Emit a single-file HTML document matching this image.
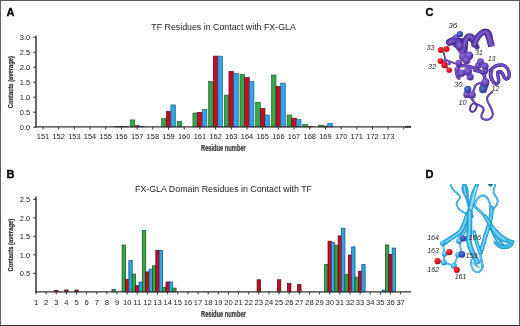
<!DOCTYPE html>
<html><head><meta charset="utf-8"><title>Figure</title>
<style>
html,body{margin:0;padding:0;background:#fff;}
body{width:520px;height:326px;overflow:hidden;position:relative;}
svg{display:block;position:absolute;left:0;top:0;}
</style></head><body>
<svg width="520" height="326" viewBox="0 0 520 326">
<rect x="0" y="0" width="520" height="326" fill="#fff"/>
<g id="chartA">
<rect x="114.46" y="126.30" width="4.66" height="0.60" fill="#33a846" stroke="#1c5a25" stroke-width="0.6"/>
<rect x="119.12" y="126.30" width="4.66" height="0.60" fill="#c70a28" stroke="#5a0a1a" stroke-width="0.6"/>
<rect x="123.78" y="126.40" width="4.66" height="0.50" fill="#2fa5e4" stroke="#1a5a82" stroke-width="0.6"/>
<rect x="130.15" y="119.90" width="4.66" height="7.00" fill="#33a846" stroke="#1c5a25" stroke-width="0.6"/>
<rect x="134.81" y="125.70" width="4.66" height="1.20" fill="#c70a28" stroke="#5a0a1a" stroke-width="0.6"/>
<rect x="139.47" y="126.20" width="4.66" height="0.70" fill="#2fa5e4" stroke="#1a5a82" stroke-width="0.6"/>
<rect x="161.53" y="118.60" width="4.66" height="8.30" fill="#33a846" stroke="#1c5a25" stroke-width="0.6"/>
<rect x="166.19" y="111.30" width="4.66" height="15.60" fill="#c70a28" stroke="#5a0a1a" stroke-width="0.6"/>
<rect x="170.85" y="104.90" width="4.66" height="22.00" fill="#2fa5e4" stroke="#1a5a82" stroke-width="0.6"/>
<rect x="177.22" y="121.30" width="4.66" height="5.60" fill="#33a846" stroke="#1c5a25" stroke-width="0.6"/>
<rect x="192.91" y="113.00" width="4.66" height="13.90" fill="#33a846" stroke="#1c5a25" stroke-width="0.6"/>
<rect x="197.57" y="112.30" width="4.66" height="14.60" fill="#c70a28" stroke="#5a0a1a" stroke-width="0.6"/>
<rect x="202.23" y="109.30" width="4.66" height="17.60" fill="#2fa5e4" stroke="#1a5a82" stroke-width="0.6"/>
<rect x="208.60" y="81.40" width="4.66" height="45.50" fill="#33a846" stroke="#1c5a25" stroke-width="0.6"/>
<rect x="213.26" y="56.10" width="4.66" height="70.80" fill="#c70a28" stroke="#5a0a1a" stroke-width="0.6"/>
<rect x="217.92" y="56.10" width="4.66" height="70.80" fill="#2fa5e4" stroke="#1a5a82" stroke-width="0.6"/>
<rect x="224.29" y="95.10" width="4.66" height="31.80" fill="#33a846" stroke="#1c5a25" stroke-width="0.6"/>
<rect x="228.95" y="71.30" width="4.66" height="55.60" fill="#c70a28" stroke="#5a0a1a" stroke-width="0.6"/>
<rect x="233.61" y="73.30" width="4.66" height="53.60" fill="#2fa5e4" stroke="#1a5a82" stroke-width="0.6"/>
<rect x="239.98" y="74.30" width="4.66" height="52.60" fill="#33a846" stroke="#1c5a25" stroke-width="0.6"/>
<rect x="244.64" y="77.50" width="4.66" height="49.40" fill="#c70a28" stroke="#5a0a1a" stroke-width="0.6"/>
<rect x="249.30" y="81.40" width="4.66" height="45.50" fill="#2fa5e4" stroke="#1a5a82" stroke-width="0.6"/>
<rect x="255.67" y="102.20" width="4.66" height="24.70" fill="#33a846" stroke="#1c5a25" stroke-width="0.6"/>
<rect x="260.33" y="108.30" width="4.66" height="18.60" fill="#c70a28" stroke="#5a0a1a" stroke-width="0.6"/>
<rect x="264.99" y="115.00" width="4.66" height="11.90" fill="#2fa5e4" stroke="#1a5a82" stroke-width="0.6"/>
<rect x="271.36" y="75.00" width="4.66" height="51.90" fill="#33a846" stroke="#1c5a25" stroke-width="0.6"/>
<rect x="276.02" y="86.30" width="4.66" height="40.60" fill="#c70a28" stroke="#5a0a1a" stroke-width="0.6"/>
<rect x="280.68" y="83.10" width="4.66" height="43.80" fill="#2fa5e4" stroke="#1a5a82" stroke-width="0.6"/>
<rect x="287.05" y="115.00" width="4.66" height="11.90" fill="#33a846" stroke="#1c5a25" stroke-width="0.6"/>
<rect x="291.71" y="118.10" width="4.66" height="8.80" fill="#c70a28" stroke="#5a0a1a" stroke-width="0.6"/>
<rect x="296.37" y="119.40" width="4.66" height="7.50" fill="#2fa5e4" stroke="#1a5a82" stroke-width="0.6"/>
<rect x="302.74" y="124.30" width="4.66" height="2.60" fill="#33a846" stroke="#1c5a25" stroke-width="0.6"/>
<rect x="307.40" y="126.20" width="4.66" height="0.70" fill="#c70a28" stroke="#5a0a1a" stroke-width="0.6"/>
<rect x="318.43" y="125.20" width="4.66" height="1.70" fill="#33a846" stroke="#1c5a25" stroke-width="0.6"/>
<rect x="323.09" y="126.00" width="4.66" height="0.90" fill="#c70a28" stroke="#5a0a1a" stroke-width="0.6"/>
<rect x="327.75" y="123.30" width="4.66" height="3.60" fill="#2fa5e4" stroke="#1a5a82" stroke-width="0.6"/>
<path d="M36 35.6V127.6" stroke="#333" stroke-width="1.5" fill="none"/>
<path d="M35.3 126.9H406" stroke="#333" stroke-width="1.15" fill="none"/>
<path d="M405 126.9H411" stroke="#333" stroke-width="2" fill="none"/>
<path d="M33.2 127.2H36" stroke="#333" stroke-width="1"/>
<text x="30.2" y="129.9" text-anchor="end" font-size="7.5" font-family="Liberation Sans, Arial, sans-serif" fill="#1a1a1a">0.0</text>
<path d="M33.2 112.2H36" stroke="#333" stroke-width="1"/>
<text x="30.2" y="114.9" text-anchor="end" font-size="7.5" font-family="Liberation Sans, Arial, sans-serif" fill="#1a1a1a">0.5</text>
<path d="M33.2 97.2H36" stroke="#333" stroke-width="1"/>
<text x="30.2" y="99.9" text-anchor="end" font-size="7.5" font-family="Liberation Sans, Arial, sans-serif" fill="#1a1a1a">1.0</text>
<path d="M33.2 82.2H36" stroke="#333" stroke-width="1"/>
<text x="30.2" y="84.9" text-anchor="end" font-size="7.5" font-family="Liberation Sans, Arial, sans-serif" fill="#1a1a1a">1.5</text>
<path d="M33.2 67.2H36" stroke="#333" stroke-width="1"/>
<text x="30.2" y="69.9" text-anchor="end" font-size="7.5" font-family="Liberation Sans, Arial, sans-serif" fill="#1a1a1a">2.0</text>
<path d="M33.2 52.2H36" stroke="#333" stroke-width="1"/>
<text x="30.2" y="54.9" text-anchor="end" font-size="7.5" font-family="Liberation Sans, Arial, sans-serif" fill="#1a1a1a">2.5</text>
<path d="M33.2 37.2H36" stroke="#333" stroke-width="1"/>
<text x="30.2" y="39.9" text-anchor="end" font-size="7.5" font-family="Liberation Sans, Arial, sans-serif" fill="#1a1a1a">3.0</text>
<path d="M43.00 127V129.6" stroke="#333" stroke-width="1"/>
<text x="43.00" y="139.3" text-anchor="middle" font-size="7.45" font-family="Liberation Sans, Arial, sans-serif" fill="#1a1a1a">151</text>
<path d="M58.69 127V129.6" stroke="#333" stroke-width="1"/>
<text x="58.69" y="139.3" text-anchor="middle" font-size="7.45" font-family="Liberation Sans, Arial, sans-serif" fill="#1a1a1a">152</text>
<path d="M74.38 127V129.6" stroke="#333" stroke-width="1"/>
<text x="74.38" y="139.3" text-anchor="middle" font-size="7.45" font-family="Liberation Sans, Arial, sans-serif" fill="#1a1a1a">153</text>
<path d="M90.07 127V129.6" stroke="#333" stroke-width="1"/>
<text x="90.07" y="139.3" text-anchor="middle" font-size="7.45" font-family="Liberation Sans, Arial, sans-serif" fill="#1a1a1a">154</text>
<path d="M105.76 127V129.6" stroke="#333" stroke-width="1"/>
<text x="105.76" y="139.3" text-anchor="middle" font-size="7.45" font-family="Liberation Sans, Arial, sans-serif" fill="#1a1a1a">155</text>
<path d="M121.45 127V129.6" stroke="#333" stroke-width="1"/>
<text x="121.45" y="139.3" text-anchor="middle" font-size="7.45" font-family="Liberation Sans, Arial, sans-serif" fill="#1a1a1a">156</text>
<path d="M137.14 127V129.6" stroke="#333" stroke-width="1"/>
<text x="137.14" y="139.3" text-anchor="middle" font-size="7.45" font-family="Liberation Sans, Arial, sans-serif" fill="#1a1a1a">157</text>
<path d="M152.83 127V129.6" stroke="#333" stroke-width="1"/>
<text x="152.83" y="139.3" text-anchor="middle" font-size="7.45" font-family="Liberation Sans, Arial, sans-serif" fill="#1a1a1a">158</text>
<path d="M168.52 127V129.6" stroke="#333" stroke-width="1"/>
<text x="168.52" y="139.3" text-anchor="middle" font-size="7.45" font-family="Liberation Sans, Arial, sans-serif" fill="#1a1a1a">159</text>
<path d="M184.21 127V129.6" stroke="#333" stroke-width="1"/>
<text x="184.21" y="139.3" text-anchor="middle" font-size="7.45" font-family="Liberation Sans, Arial, sans-serif" fill="#1a1a1a">160</text>
<path d="M199.90 127V129.6" stroke="#333" stroke-width="1"/>
<text x="199.90" y="139.3" text-anchor="middle" font-size="7.45" font-family="Liberation Sans, Arial, sans-serif" fill="#1a1a1a">161</text>
<path d="M215.59 127V129.6" stroke="#333" stroke-width="1"/>
<text x="215.59" y="139.3" text-anchor="middle" font-size="7.45" font-family="Liberation Sans, Arial, sans-serif" fill="#1a1a1a">162</text>
<path d="M231.28 127V129.6" stroke="#333" stroke-width="1"/>
<text x="231.28" y="139.3" text-anchor="middle" font-size="7.45" font-family="Liberation Sans, Arial, sans-serif" fill="#1a1a1a">163</text>
<path d="M246.97 127V129.6" stroke="#333" stroke-width="1"/>
<text x="246.97" y="139.3" text-anchor="middle" font-size="7.45" font-family="Liberation Sans, Arial, sans-serif" fill="#1a1a1a">164</text>
<path d="M262.66 127V129.6" stroke="#333" stroke-width="1"/>
<text x="262.66" y="139.3" text-anchor="middle" font-size="7.45" font-family="Liberation Sans, Arial, sans-serif" fill="#1a1a1a">165</text>
<path d="M278.35 127V129.6" stroke="#333" stroke-width="1"/>
<text x="278.35" y="139.3" text-anchor="middle" font-size="7.45" font-family="Liberation Sans, Arial, sans-serif" fill="#1a1a1a">166</text>
<path d="M294.04 127V129.6" stroke="#333" stroke-width="1"/>
<text x="294.04" y="139.3" text-anchor="middle" font-size="7.45" font-family="Liberation Sans, Arial, sans-serif" fill="#1a1a1a">167</text>
<path d="M309.73 127V129.6" stroke="#333" stroke-width="1"/>
<text x="309.73" y="139.3" text-anchor="middle" font-size="7.45" font-family="Liberation Sans, Arial, sans-serif" fill="#1a1a1a">168</text>
<path d="M325.42 127V129.6" stroke="#333" stroke-width="1"/>
<text x="325.42" y="139.3" text-anchor="middle" font-size="7.45" font-family="Liberation Sans, Arial, sans-serif" fill="#1a1a1a">169</text>
<path d="M341.11 127V129.6" stroke="#333" stroke-width="1"/>
<text x="341.11" y="139.3" text-anchor="middle" font-size="7.45" font-family="Liberation Sans, Arial, sans-serif" fill="#1a1a1a">170</text>
<path d="M356.80 127V129.6" stroke="#333" stroke-width="1"/>
<text x="356.80" y="139.3" text-anchor="middle" font-size="7.45" font-family="Liberation Sans, Arial, sans-serif" fill="#1a1a1a">171</text>
<path d="M372.49 127V129.6" stroke="#333" stroke-width="1"/>
<text x="372.49" y="139.3" text-anchor="middle" font-size="7.45" font-family="Liberation Sans, Arial, sans-serif" fill="#1a1a1a">172</text>
<path d="M388.18 127V129.6" stroke="#333" stroke-width="1"/>
<text x="388.18" y="139.3" text-anchor="middle" font-size="7.45" font-family="Liberation Sans, Arial, sans-serif" fill="#1a1a1a">173</text>
<path d="M403.87 127V129.6" stroke="#333" stroke-width="1"/>
</g>
<g id="chartB">
<rect x="54.57" y="290.40" width="3.37" height="1.40" fill="#c70a28" stroke="#5a0a1a" stroke-width="0.8"/>
<rect x="64.70" y="290.00" width="3.37" height="1.80" fill="#c70a28" stroke="#5a0a1a" stroke-width="0.8"/>
<rect x="74.83" y="290.00" width="3.37" height="1.80" fill="#c70a28" stroke="#5a0a1a" stroke-width="0.8"/>
<rect x="111.97" y="289.40" width="3.37" height="2.40" fill="#33a846" stroke="#1c5a25" stroke-width="0.8"/>
<rect x="122.10" y="245.00" width="3.37" height="46.80" fill="#33a846" stroke="#1c5a25" stroke-width="0.8"/>
<rect x="125.47" y="279.30" width="3.37" height="12.50" fill="#c70a28" stroke="#5a0a1a" stroke-width="0.8"/>
<rect x="128.84" y="260.60" width="3.37" height="31.20" fill="#2fa5e4" stroke="#1a5a82" stroke-width="0.8"/>
<rect x="132.22" y="274.10" width="3.37" height="17.70" fill="#33a846" stroke="#1c5a25" stroke-width="0.8"/>
<rect x="135.59" y="285.70" width="3.37" height="6.10" fill="#c70a28" stroke="#5a0a1a" stroke-width="0.8"/>
<rect x="138.97" y="282.00" width="3.37" height="9.80" fill="#2fa5e4" stroke="#1a5a82" stroke-width="0.8"/>
<rect x="142.35" y="230.50" width="3.37" height="61.30" fill="#33a846" stroke="#1c5a25" stroke-width="0.8"/>
<rect x="145.72" y="271.90" width="3.37" height="19.90" fill="#c70a28" stroke="#5a0a1a" stroke-width="0.8"/>
<rect x="149.09" y="269.20" width="3.37" height="22.60" fill="#2fa5e4" stroke="#1a5a82" stroke-width="0.8"/>
<rect x="152.48" y="265.80" width="3.37" height="26.00" fill="#33a846" stroke="#1c5a25" stroke-width="0.8"/>
<rect x="155.85" y="250.30" width="3.37" height="41.50" fill="#c70a28" stroke="#5a0a1a" stroke-width="0.8"/>
<rect x="159.22" y="250.30" width="3.37" height="41.50" fill="#2fa5e4" stroke="#1a5a82" stroke-width="0.8"/>
<rect x="162.61" y="287.60" width="3.37" height="4.20" fill="#33a846" stroke="#1c5a25" stroke-width="0.8"/>
<rect x="165.98" y="282.00" width="3.37" height="9.80" fill="#c70a28" stroke="#5a0a1a" stroke-width="0.8"/>
<rect x="169.35" y="282.00" width="3.37" height="9.80" fill="#2fa5e4" stroke="#1a5a82" stroke-width="0.8"/>
<rect x="172.74" y="288.10" width="3.37" height="3.70" fill="#33a846" stroke="#1c5a25" stroke-width="0.8"/>
<rect x="257.13" y="279.80" width="3.37" height="12.00" fill="#c70a28" stroke="#5a0a1a" stroke-width="0.8"/>
<rect x="277.39" y="279.80" width="3.37" height="12.00" fill="#c70a28" stroke="#5a0a1a" stroke-width="0.8"/>
<rect x="287.51" y="283.50" width="3.37" height="8.30" fill="#c70a28" stroke="#5a0a1a" stroke-width="0.8"/>
<rect x="297.64" y="284.40" width="3.37" height="7.40" fill="#c70a28" stroke="#5a0a1a" stroke-width="0.8"/>
<rect x="324.66" y="264.60" width="3.37" height="27.20" fill="#33a846" stroke="#1c5a25" stroke-width="0.8"/>
<rect x="328.03" y="241.30" width="3.37" height="50.50" fill="#c70a28" stroke="#5a0a1a" stroke-width="0.8"/>
<rect x="331.40" y="242.50" width="3.37" height="49.30" fill="#2fa5e4" stroke="#1a5a82" stroke-width="0.8"/>
<rect x="334.79" y="245.20" width="3.37" height="46.60" fill="#33a846" stroke="#1c5a25" stroke-width="0.8"/>
<rect x="338.16" y="235.90" width="3.37" height="55.90" fill="#c70a28" stroke="#5a0a1a" stroke-width="0.8"/>
<rect x="341.53" y="228.30" width="3.37" height="63.50" fill="#2fa5e4" stroke="#1a5a82" stroke-width="0.8"/>
<rect x="344.91" y="274.60" width="3.37" height="17.20" fill="#33a846" stroke="#1c5a25" stroke-width="0.8"/>
<rect x="348.28" y="255.00" width="3.37" height="36.80" fill="#c70a28" stroke="#5a0a1a" stroke-width="0.8"/>
<rect x="351.65" y="246.90" width="3.37" height="44.90" fill="#2fa5e4" stroke="#1a5a82" stroke-width="0.8"/>
<rect x="355.04" y="277.10" width="3.37" height="14.70" fill="#33a846" stroke="#1c5a25" stroke-width="0.8"/>
<rect x="358.41" y="271.20" width="3.37" height="20.60" fill="#c70a28" stroke="#5a0a1a" stroke-width="0.8"/>
<rect x="361.78" y="264.60" width="3.37" height="27.20" fill="#2fa5e4" stroke="#1a5a82" stroke-width="0.8"/>
<rect x="382.04" y="290.00" width="3.37" height="1.80" fill="#2fa5e4" stroke="#1a5a82" stroke-width="0.8"/>
<rect x="385.43" y="244.90" width="3.37" height="46.90" fill="#33a846" stroke="#1c5a25" stroke-width="0.8"/>
<rect x="388.80" y="254.30" width="3.37" height="37.50" fill="#c70a28" stroke="#5a0a1a" stroke-width="0.8"/>
<rect x="392.17" y="248.10" width="3.37" height="43.70" fill="#2fa5e4" stroke="#1a5a82" stroke-width="0.8"/>
<path d="M36 196.4V292.5" stroke="#333" stroke-width="1.5" fill="none"/>
<path d="M35.3 291.8H411" stroke="#333" stroke-width="1.15" fill="none"/>
<path d="M33.2 273.3H36" stroke="#333" stroke-width="1"/>
<text x="30.2" y="276.0" text-anchor="end" font-size="7.5" font-family="Liberation Sans, Arial, sans-serif" fill="#1a1a1a">0.5</text>
<path d="M33.2 254.8H36" stroke="#333" stroke-width="1"/>
<text x="30.2" y="257.5" text-anchor="end" font-size="7.5" font-family="Liberation Sans, Arial, sans-serif" fill="#1a1a1a">1.0</text>
<path d="M33.2 236.3H36" stroke="#333" stroke-width="1"/>
<text x="30.2" y="239.0" text-anchor="end" font-size="7.5" font-family="Liberation Sans, Arial, sans-serif" fill="#1a1a1a">1.5</text>
<path d="M33.2 217.8H36" stroke="#333" stroke-width="1"/>
<text x="30.2" y="220.5" text-anchor="end" font-size="7.5" font-family="Liberation Sans, Arial, sans-serif" fill="#1a1a1a">2.0</text>
<path d="M33.2 199.3H36" stroke="#333" stroke-width="1"/>
<text x="30.2" y="202.0" text-anchor="end" font-size="7.5" font-family="Liberation Sans, Arial, sans-serif" fill="#1a1a1a">2.5</text>
<path d="M36.00 292V294.4" stroke="#333" stroke-width="1"/>
<text x="36.00" y="304.7" text-anchor="middle" font-size="7.6" font-family="Liberation Sans, Arial, sans-serif" fill="#1a1a1a">1</text>
<path d="M46.13 292V294.4" stroke="#333" stroke-width="1"/>
<text x="46.13" y="304.7" text-anchor="middle" font-size="7.6" font-family="Liberation Sans, Arial, sans-serif" fill="#1a1a1a">2</text>
<path d="M56.26 292V294.4" stroke="#333" stroke-width="1"/>
<text x="56.26" y="304.7" text-anchor="middle" font-size="7.6" font-family="Liberation Sans, Arial, sans-serif" fill="#1a1a1a">3</text>
<path d="M66.38 292V294.4" stroke="#333" stroke-width="1"/>
<text x="66.38" y="304.7" text-anchor="middle" font-size="7.6" font-family="Liberation Sans, Arial, sans-serif" fill="#1a1a1a">4</text>
<path d="M76.51 292V294.4" stroke="#333" stroke-width="1"/>
<text x="76.51" y="304.7" text-anchor="middle" font-size="7.6" font-family="Liberation Sans, Arial, sans-serif" fill="#1a1a1a">5</text>
<path d="M86.64 292V294.4" stroke="#333" stroke-width="1"/>
<text x="86.64" y="304.7" text-anchor="middle" font-size="7.6" font-family="Liberation Sans, Arial, sans-serif" fill="#1a1a1a">6</text>
<path d="M96.77 292V294.4" stroke="#333" stroke-width="1"/>
<text x="96.77" y="304.7" text-anchor="middle" font-size="7.6" font-family="Liberation Sans, Arial, sans-serif" fill="#1a1a1a">7</text>
<path d="M106.90 292V294.4" stroke="#333" stroke-width="1"/>
<text x="106.90" y="304.7" text-anchor="middle" font-size="7.6" font-family="Liberation Sans, Arial, sans-serif" fill="#1a1a1a">8</text>
<path d="M117.02 292V294.4" stroke="#333" stroke-width="1"/>
<text x="117.02" y="304.7" text-anchor="middle" font-size="7.6" font-family="Liberation Sans, Arial, sans-serif" fill="#1a1a1a">9</text>
<path d="M127.15 292V294.4" stroke="#333" stroke-width="1"/>
<text x="127.15" y="304.7" text-anchor="middle" font-size="7.6" font-family="Liberation Sans, Arial, sans-serif" fill="#1a1a1a">10</text>
<path d="M137.28 292V294.4" stroke="#333" stroke-width="1"/>
<text x="137.28" y="304.7" text-anchor="middle" font-size="7.6" font-family="Liberation Sans, Arial, sans-serif" fill="#1a1a1a">11</text>
<path d="M147.41 292V294.4" stroke="#333" stroke-width="1"/>
<text x="147.41" y="304.7" text-anchor="middle" font-size="7.6" font-family="Liberation Sans, Arial, sans-serif" fill="#1a1a1a">12</text>
<path d="M157.54 292V294.4" stroke="#333" stroke-width="1"/>
<text x="157.54" y="304.7" text-anchor="middle" font-size="7.6" font-family="Liberation Sans, Arial, sans-serif" fill="#1a1a1a">13</text>
<path d="M167.66 292V294.4" stroke="#333" stroke-width="1"/>
<text x="167.66" y="304.7" text-anchor="middle" font-size="7.6" font-family="Liberation Sans, Arial, sans-serif" fill="#1a1a1a">14</text>
<path d="M177.79 292V294.4" stroke="#333" stroke-width="1"/>
<text x="177.79" y="304.7" text-anchor="middle" font-size="7.6" font-family="Liberation Sans, Arial, sans-serif" fill="#1a1a1a">15</text>
<path d="M187.92 292V294.4" stroke="#333" stroke-width="1"/>
<text x="187.92" y="304.7" text-anchor="middle" font-size="7.6" font-family="Liberation Sans, Arial, sans-serif" fill="#1a1a1a">16</text>
<path d="M198.05 292V294.4" stroke="#333" stroke-width="1"/>
<text x="198.05" y="304.7" text-anchor="middle" font-size="7.6" font-family="Liberation Sans, Arial, sans-serif" fill="#1a1a1a">17</text>
<path d="M208.18 292V294.4" stroke="#333" stroke-width="1"/>
<text x="208.18" y="304.7" text-anchor="middle" font-size="7.6" font-family="Liberation Sans, Arial, sans-serif" fill="#1a1a1a">18</text>
<path d="M218.30 292V294.4" stroke="#333" stroke-width="1"/>
<text x="218.30" y="304.7" text-anchor="middle" font-size="7.6" font-family="Liberation Sans, Arial, sans-serif" fill="#1a1a1a">19</text>
<path d="M228.43 292V294.4" stroke="#333" stroke-width="1"/>
<text x="228.43" y="304.7" text-anchor="middle" font-size="7.6" font-family="Liberation Sans, Arial, sans-serif" fill="#1a1a1a">20</text>
<path d="M238.56 292V294.4" stroke="#333" stroke-width="1"/>
<text x="238.56" y="304.7" text-anchor="middle" font-size="7.6" font-family="Liberation Sans, Arial, sans-serif" fill="#1a1a1a">21</text>
<path d="M248.69 292V294.4" stroke="#333" stroke-width="1"/>
<text x="248.69" y="304.7" text-anchor="middle" font-size="7.6" font-family="Liberation Sans, Arial, sans-serif" fill="#1a1a1a">22</text>
<path d="M258.82 292V294.4" stroke="#333" stroke-width="1"/>
<text x="258.82" y="304.7" text-anchor="middle" font-size="7.6" font-family="Liberation Sans, Arial, sans-serif" fill="#1a1a1a">23</text>
<path d="M268.94 292V294.4" stroke="#333" stroke-width="1"/>
<text x="268.94" y="304.7" text-anchor="middle" font-size="7.6" font-family="Liberation Sans, Arial, sans-serif" fill="#1a1a1a">24</text>
<path d="M279.07 292V294.4" stroke="#333" stroke-width="1"/>
<text x="279.07" y="304.7" text-anchor="middle" font-size="7.6" font-family="Liberation Sans, Arial, sans-serif" fill="#1a1a1a">25</text>
<path d="M289.20 292V294.4" stroke="#333" stroke-width="1"/>
<text x="289.20" y="304.7" text-anchor="middle" font-size="7.6" font-family="Liberation Sans, Arial, sans-serif" fill="#1a1a1a">26</text>
<path d="M299.33 292V294.4" stroke="#333" stroke-width="1"/>
<text x="299.33" y="304.7" text-anchor="middle" font-size="7.6" font-family="Liberation Sans, Arial, sans-serif" fill="#1a1a1a">27</text>
<path d="M309.46 292V294.4" stroke="#333" stroke-width="1"/>
<text x="309.46" y="304.7" text-anchor="middle" font-size="7.6" font-family="Liberation Sans, Arial, sans-serif" fill="#1a1a1a">28</text>
<path d="M319.58 292V294.4" stroke="#333" stroke-width="1"/>
<text x="319.58" y="304.7" text-anchor="middle" font-size="7.6" font-family="Liberation Sans, Arial, sans-serif" fill="#1a1a1a">29</text>
<path d="M329.71 292V294.4" stroke="#333" stroke-width="1"/>
<text x="329.71" y="304.7" text-anchor="middle" font-size="7.6" font-family="Liberation Sans, Arial, sans-serif" fill="#1a1a1a">30</text>
<path d="M339.84 292V294.4" stroke="#333" stroke-width="1"/>
<text x="339.84" y="304.7" text-anchor="middle" font-size="7.6" font-family="Liberation Sans, Arial, sans-serif" fill="#1a1a1a">31</text>
<path d="M349.97 292V294.4" stroke="#333" stroke-width="1"/>
<text x="349.97" y="304.7" text-anchor="middle" font-size="7.6" font-family="Liberation Sans, Arial, sans-serif" fill="#1a1a1a">32</text>
<path d="M360.10 292V294.4" stroke="#333" stroke-width="1"/>
<text x="360.10" y="304.7" text-anchor="middle" font-size="7.6" font-family="Liberation Sans, Arial, sans-serif" fill="#1a1a1a">33</text>
<path d="M370.22 292V294.4" stroke="#333" stroke-width="1"/>
<text x="370.22" y="304.7" text-anchor="middle" font-size="7.6" font-family="Liberation Sans, Arial, sans-serif" fill="#1a1a1a">34</text>
<path d="M380.35 292V294.4" stroke="#333" stroke-width="1"/>
<text x="380.35" y="304.7" text-anchor="middle" font-size="7.6" font-family="Liberation Sans, Arial, sans-serif" fill="#1a1a1a">35</text>
<path d="M390.48 292V294.4" stroke="#333" stroke-width="1"/>
<text x="390.48" y="304.7" text-anchor="middle" font-size="7.6" font-family="Liberation Sans, Arial, sans-serif" fill="#1a1a1a">36</text>
<path d="M400.61 292V294.4" stroke="#333" stroke-width="1"/>
<text x="400.61" y="304.7" text-anchor="middle" font-size="7.6" font-family="Liberation Sans, Arial, sans-serif" fill="#1a1a1a">37</text>
</g>
<text x="151.3" y="29.7" font-size="8.4" font-family="Liberation Sans, Arial, sans-serif" fill="#222" textLength="144.5" lengthAdjust="spacingAndGlyphs">TF Residues in Contact with FX-GLA</text>
<text x="135" y="191.7" font-size="8.4" font-family="Liberation Sans, Arial, sans-serif" fill="#222" textLength="177" lengthAdjust="spacingAndGlyphs">FX-GLA Domain Residues in Contact with TF</text>
<text x="201" y="151.2" font-size="8.2" font-weight="bold" font-family="Liberation Sans, Arial, sans-serif" fill="#333" stroke="#333" stroke-width="0.2" textLength="44.8" lengthAdjust="spacingAndGlyphs">Residue number</text>
<text x="201" y="316.8" font-size="8.2" font-weight="bold" font-family="Liberation Sans, Arial, sans-serif" fill="#333" stroke="#333" stroke-width="0.2" textLength="44.8" lengthAdjust="spacingAndGlyphs">Residue number</text>
<text transform="translate(13.2 108.3) rotate(-90)" font-size="7.6" font-weight="bold" font-family="Liberation Sans, Arial, sans-serif" fill="#333" stroke="#333" stroke-width="0.25" textLength="52.3" lengthAdjust="spacingAndGlyphs">Contacts (average)</text>
<text transform="translate(13.2 271.6) rotate(-90)" font-size="7.6" font-weight="bold" font-family="Liberation Sans, Arial, sans-serif" fill="#333" stroke="#333" stroke-width="0.25" textLength="52.8" lengthAdjust="spacingAndGlyphs">Contacts (average)</text>
<text x="6.6" y="16" font-size="10.3" font-weight="bold" font-family="Liberation Sans, Arial, sans-serif" fill="#000" stroke="#000" stroke-width="0.3" textLength="8.0" lengthAdjust="spacingAndGlyphs">A</text>
<text x="6.4" y="178" font-size="10.3" font-weight="bold" font-family="Liberation Sans, Arial, sans-serif" fill="#000" stroke="#000" stroke-width="0.3" textLength="8.0" lengthAdjust="spacingAndGlyphs">B</text>
<text x="425.6" y="16" font-size="10.3" font-weight="bold" font-family="Liberation Sans, Arial, sans-serif" fill="#000" stroke="#000" stroke-width="0.3" textLength="8.0" lengthAdjust="spacingAndGlyphs">C</text>
<text x="425.6" y="178" font-size="10.3" font-weight="bold" font-family="Liberation Sans, Arial, sans-serif" fill="#000" stroke="#000" stroke-width="0.3" textLength="8.0" lengthAdjust="spacingAndGlyphs">D</text>
<defs>
<radialGradient id="gp" cx="0.4" cy="0.35" r="0.7"><stop offset="0" stop-color="#9173d8"/><stop offset="0.55" stop-color="#6544b6"/><stop offset="1" stop-color="#452b8e"/></radialGradient>
<radialGradient id="gr" cx="0.4" cy="0.35" r="0.7"><stop offset="0" stop-color="#ff4a4a"/><stop offset="0.5" stop-color="#e8101e"/><stop offset="1" stop-color="#a00814"/></radialGradient>
<radialGradient id="gb" cx="0.4" cy="0.35" r="0.7"><stop offset="0" stop-color="#5c78d6"/><stop offset="0.55" stop-color="#3a4eb4"/><stop offset="1" stop-color="#2a3088"/></radialGradient>
<radialGradient id="gc" cx="0.4" cy="0.35" r="0.7"><stop offset="0" stop-color="#8fe0fa"/><stop offset="0.55" stop-color="#35b2e4"/><stop offset="1" stop-color="#1a80b0"/></radialGradient>
</defs>
<g id="panelC">
<path d="M492 92 C488 95 486 98 487.5 101 C489 105 492.5 109 492.8 114 C492.8 118 489 120 486 119.8 C483 119.5 480.5 118 481.5 115 C482.5 112 485 110 483 107.5 C481.5 105.5 478 105 475.5 104" fill="none" stroke="#43298a" stroke-width="2.0" stroke-linecap="round" stroke-linejoin="round"/>
<path d="M492 92 C488 95 486 98 487.5 101 C489 105 492.5 109 492.8 114 C492.8 118 489 120 486 119.8 C483 119.5 480.5 118 481.5 115 C482.5 112 485 110 483 107.5 C481.5 105.5 478 105 475.5 104" fill="none" stroke="#6342b4" stroke-width="1.44" stroke-linecap="round" stroke-linejoin="round"/>
<path d="M492 92 C488 95 486 98 487.5 101 C489 105 492.5 109 492.8 114 C492.8 118 489 120 486 119.8 C483 119.5 480.5 118 481.5 115 C482.5 112 485 110 483 107.5 C481.5 105.5 478 105 475.5 104" fill="none" stroke="#8766d2" stroke-width="0.56" stroke-linecap="round" stroke-linejoin="round" opacity="0.75"/>
<ellipse cx="473.3" cy="107.6" rx="3" ry="4.4" transform="rotate(25 473.3 107.6)" fill="none" stroke="#5334a2" stroke-width="2"/>
<path d="M474.5 103 C473 100 471 98 470 96" fill="none" stroke="#43298a" stroke-width="2.2" stroke-linecap="round" stroke-linejoin="round"/>
<path d="M474.5 103 C473 100 471 98 470 96" fill="none" stroke="#6342b4" stroke-width="1.58" stroke-linecap="round" stroke-linejoin="round"/>
<path d="M474.5 103 C473 100 471 98 470 96" fill="none" stroke="#8766d2" stroke-width="0.62" stroke-linecap="round" stroke-linejoin="round" opacity="0.75"/>
<path d="M482 83 C478 83 475 85 474.5 88 C474 90 473 92 472 94" fill="none" stroke="#43298a" stroke-width="2.2" stroke-linecap="round" stroke-linejoin="round"/>
<path d="M482 83 C478 83 475 85 474.5 88 C474 90 473 92 472 94" fill="none" stroke="#6342b4" stroke-width="1.58" stroke-linecap="round" stroke-linejoin="round"/>
<path d="M482 83 C478 83 475 85 474.5 88 C474 90 473 92 472 94" fill="none" stroke="#8766d2" stroke-width="0.62" stroke-linecap="round" stroke-linejoin="round" opacity="0.75"/>
<path d="M491.2 69.8 C490.2 73 490.5 77 492 80 C493 82 494.5 83.5 496 84" fill="none" stroke="#43298a" stroke-width="3.8" stroke-linecap="round" stroke-linejoin="round"/>
<path d="M491.2 69.8 C490.2 73 490.5 77 492 80 C493 82 494.5 83.5 496 84" fill="none" stroke="#6342b4" stroke-width="2.74" stroke-linecap="round" stroke-linejoin="round"/>
<path d="M491.2 69.8 C490.2 73 490.5 77 492 80 C493 82 494.5 83.5 496 84" fill="none" stroke="#8766d2" stroke-width="1.06" stroke-linecap="round" stroke-linejoin="round" opacity="0.75"/>
<path d="M498.2 72.2 C497.2 75 498.5 78 498.8 80.5 C498.8 82 497.5 83.5 496.5 84" fill="none" stroke="#43298a" stroke-width="3.4" stroke-linecap="round" stroke-linejoin="round"/>
<path d="M498.2 72.2 C497.2 75 498.5 78 498.8 80.5 C498.8 82 497.5 83.5 496.5 84" fill="none" stroke="#6342b4" stroke-width="2.45" stroke-linecap="round" stroke-linejoin="round"/>
<path d="M498.2 72.2 C497.2 75 498.5 78 498.8 80.5 C498.8 82 497.5 83.5 496.5 84" fill="none" stroke="#8766d2" stroke-width="0.95" stroke-linecap="round" stroke-linejoin="round" opacity="0.75"/>
<path d="M491.2 69.5 C494 66 498 64.5 502.5 65 C506.5 65.8 509 70 509.2 74.5 C509.3 77.5 508 79.3 506 79 C504.2 78.5 503.8 76 502.6 73.8 C501.5 72 499.5 71 498 72.2" fill="none" stroke="#43298a" stroke-width="3.5" stroke-linecap="round" stroke-linejoin="round"/>
<path d="M491.2 69.5 C494 66 498 64.5 502.5 65 C506.5 65.8 509 70 509.2 74.5 C509.3 77.5 508 79.3 506 79 C504.2 78.5 503.8 76 502.6 73.8 C501.5 72 499.5 71 498 72.2" fill="none" stroke="#6342b4" stroke-width="2.52" stroke-linecap="round" stroke-linejoin="round"/>
<path d="M491.2 69.5 C494 66 498 64.5 502.5 65 C506.5 65.8 509 70 509.2 74.5 C509.3 77.5 508 79.3 506 79 C504.2 78.5 503.8 76 502.6 73.8 C501.5 72 499.5 71 498 72.2" fill="none" stroke="#8766d2" stroke-width="0.98" stroke-linecap="round" stroke-linejoin="round" opacity="0.75"/>
<path d="M459 66 C465 65 471 66.5 476 68.6 C479 70 481.5 72 483.5 74 C484.5 75.5 484.8 77 484.8 78.5" fill="none" stroke="#43298a" stroke-width="3.3" stroke-linecap="round" stroke-linejoin="round"/>
<path d="M459 66 C465 65 471 66.5 476 68.6 C479 70 481.5 72 483.5 74 C484.5 75.5 484.8 77 484.8 78.5" fill="none" stroke="#6342b4" stroke-width="2.38" stroke-linecap="round" stroke-linejoin="round"/>
<path d="M459 66 C465 65 471 66.5 476 68.6 C479 70 481.5 72 483.5 74 C484.5 75.5 484.8 77 484.8 78.5" fill="none" stroke="#8766d2" stroke-width="0.92" stroke-linecap="round" stroke-linejoin="round" opacity="0.75"/>
<path d="M458 67.5 C456 71 456 75 459 78.2" fill="none" stroke="#43298a" stroke-width="3.3" stroke-linecap="round" stroke-linejoin="round"/>
<path d="M458 67.5 C456 71 456 75 459 78.2" fill="none" stroke="#6342b4" stroke-width="2.38" stroke-linecap="round" stroke-linejoin="round"/>
<path d="M458 67.5 C456 71 456 75 459 78.2" fill="none" stroke="#8766d2" stroke-width="0.92" stroke-linecap="round" stroke-linejoin="round" opacity="0.75"/>
<path d="M474.5 70.3 C478 71.5 482 72 486 73" fill="none" stroke="#43298a" stroke-width="3.0" stroke-linecap="round" stroke-linejoin="round"/>
<path d="M474.5 70.3 C478 71.5 482 72 486 73" fill="none" stroke="#6342b4" stroke-width="2.16" stroke-linecap="round" stroke-linejoin="round"/>
<path d="M474.5 70.3 C478 71.5 482 72 486 73" fill="none" stroke="#8766d2" stroke-width="0.84" stroke-linecap="round" stroke-linejoin="round" opacity="0.75"/>
<path d="M449 41.5 L454 38.6 L462.5 38.6 L467 37.2 L467.6 44.5 L467 52.5 L460 53 L456.5 48.5 L452 44.8 Z" fill="#5a3aa6" stroke="#43298a" stroke-width="0.8" stroke-linejoin="round"/>
<path d="M449.5 42.3 C452.5 40 456 39.5 458.5 42 C460.5 44.5 461 48 461.8 50.5" fill="none" stroke="#43298a" stroke-width="7.0" stroke-linecap="round" stroke-linejoin="round"/>
<path d="M449.5 42.3 C452.5 40 456 39.5 458.5 42 C460.5 44.5 461 48 461.8 50.5" fill="none" stroke="#6342b4" stroke-width="5.04" stroke-linecap="round" stroke-linejoin="round"/>
<path d="M449.5 42.3 C452.5 40 456 39.5 458.5 42 C460.5 44.5 461 48 461.8 50.5" fill="none" stroke="#8766d2" stroke-width="1.96" stroke-linecap="round" stroke-linejoin="round" opacity="0.75"/>
<path d="M467.5 36.5 C471 38 474 42 477 47" fill="none" stroke="#3a2480" stroke-width="5.0" stroke-linecap="round" stroke-linejoin="round"/>
<path d="M467.5 36.5 C471 38 474 42 477 47" fill="none" stroke="#52349c" stroke-width="3.60" stroke-linecap="round" stroke-linejoin="round"/>
<path d="M463.2 50 C463.8 45 465 39.5 467.8 37 C470 35.3 472 36.5 473 39.5" fill="none" stroke="#43298a" stroke-width="6.0" stroke-linecap="round" stroke-linejoin="round"/>
<path d="M463.2 50 C463.8 45 465 39.5 467.8 37 C470 35.3 472 36.5 473 39.5" fill="none" stroke="#6342b4" stroke-width="4.32" stroke-linecap="round" stroke-linejoin="round"/>
<path d="M463.2 50 C463.8 45 465 39.5 467.8 37 C470 35.3 472 36.5 473 39.5" fill="none" stroke="#8766d2" stroke-width="1.68" stroke-linecap="round" stroke-linejoin="round" opacity="0.75"/>
<path d="M474.3 44.5 C476 39 479 34 483.5 32 C487 30.8 488.8 33 489.6 36.5" fill="none" stroke="#43298a" stroke-width="6.2" stroke-linecap="round" stroke-linejoin="round"/>
<path d="M474.3 44.5 C476 39 479 34 483.5 32 C487 30.8 488.8 33 489.6 36.5" fill="none" stroke="#6342b4" stroke-width="4.46" stroke-linecap="round" stroke-linejoin="round"/>
<path d="M474.3 44.5 C476 39 479 34 483.5 32 C487 30.8 488.8 33 489.6 36.5" fill="none" stroke="#8766d2" stroke-width="1.74" stroke-linecap="round" stroke-linejoin="round" opacity="0.75"/>
<path d="M486 31.8 C488.5 34 489.5 38 490.3 41.5 C490.8 43.5 491.2 45 491.5 46.5" fill="none" stroke="#43298a" stroke-width="6.8" stroke-linecap="butt" stroke-linejoin="round"/>
<path d="M486 31.8 C488.5 34 489.5 38 490.3 41.5 C490.8 43.5 491.2 45 491.5 46.5" fill="none" stroke="#6342b4" stroke-width="4.90" stroke-linecap="butt" stroke-linejoin="round"/>
<path d="M486 31.8 C488.5 34 489.5 38 490.3 41.5 C490.8 43.5 491.2 45 491.5 46.5" fill="none" stroke="#8766d2" stroke-width="1.90" stroke-linecap="butt" stroke-linejoin="round" opacity="0.75"/>
<path d="M443.8 52.5 L445.2 59.5 L455 63.5" fill="none" stroke="#43298a" stroke-width="1.6" stroke-linecap="round" stroke-linejoin="round"/>
<path d="M443.8 52.5 L445.2 59.5 L455 63.5" fill="none" stroke="#6342b4" stroke-width="1.15" stroke-linecap="round" stroke-linejoin="round"/>
<path d="M443.8 52.5 L445.2 59.5 L455 63.5" fill="none" stroke="#8766d2" stroke-width="0.45" stroke-linecap="round" stroke-linejoin="round" opacity="0.75"/>
<path d="M445.2 60.5 L441 61 M445.2 60.5 L445 65 L449 70" fill="none" stroke="#43298a" stroke-width="1.6" stroke-linecap="round" stroke-linejoin="round"/>
<path d="M445.2 60.5 L441 61 M445.2 60.5 L445 65 L449 70" fill="none" stroke="#6342b4" stroke-width="1.15" stroke-linecap="round" stroke-linejoin="round"/>
<path d="M445.2 60.5 L441 61 M445.2 60.5 L445 65 L449 70" fill="none" stroke="#8766d2" stroke-width="0.45" stroke-linecap="round" stroke-linejoin="round" opacity="0.75"/>
<circle cx="459.6" cy="46.2" r="3.9" fill="url(#gp)"/>
<circle cx="456.1" cy="37.5" r="3.2" fill="url(#gp)"/>
<circle cx="457.2" cy="69.5" r="2.8" fill="url(#gp)"/>
<circle cx="458.8" cy="63.2" r="3.5" fill="url(#gp)"/>
<circle cx="462.2" cy="52.5" r="2.6" fill="url(#gp)"/>
<circle cx="463.2" cy="56.8" r="4.2" fill="url(#gp)"/>
<circle cx="469.2" cy="55.8" r="4.2" fill="url(#gp)"/>
<circle cx="466.5" cy="60.4" r="3.8" fill="url(#gp)"/>
<circle cx="461.5" cy="73.2" r="3.8" fill="url(#gp)"/>
<circle cx="470.2" cy="76.9" r="3.5" fill="url(#gp)"/>
<circle cx="467.9" cy="71.5" r="4.2" fill="url(#gp)"/>
<circle cx="478.3" cy="65.5" r="3.3" fill="url(#gp)"/>
<circle cx="485.6" cy="70.2" r="3.0" fill="url(#gp)"/>
<circle cx="480.5" cy="61.8" r="3.5" fill="url(#gp)"/>
<circle cx="485" cy="66.2" r="3.6" fill="url(#gp)"/>
<circle cx="467" cy="94.4" r="3.7" fill="url(#gp)"/>
<circle cx="472.1" cy="95" r="3.7" fill="url(#gp)"/>
<circle cx="445.2" cy="60.8" r="2.0" fill="url(#gp)"/>
<circle cx="449" cy="63.5" r="1.8" fill="url(#gp)"/>
<circle cx="459.9" cy="34.1" r="3.2" fill="url(#gb)"/>
<path d="M481.5 81.2 L489.2 83.8 L486.8 90.6 L479.2 88Z" fill="#4c40ae"/>
<circle cx="483.1" cy="89.3" r="4.0" fill="url(#gb)"/>
<circle cx="485.3" cy="82.4" r="4.1" fill="url(#gp)"/>
<circle cx="467.7" cy="89.3" r="3.6" fill="url(#gb)"/>
<circle cx="440.8" cy="49.9" r="3.0" fill="url(#gr)"/>
<circle cx="446.5" cy="49.1" r="3.0" fill="url(#gr)"/>
<circle cx="440.5" cy="61.1" r="2.9" fill="url(#gr)"/>
<circle cx="444.5" cy="65.2" r="3.1" fill="url(#gr)"/>
<circle cx="449.2" cy="70.2" r="2.7" fill="url(#gr)"/>
<text x="448.2" y="27.9" font-size="6.7" font-style="italic" font-family="Liberation Sans, Arial, sans-serif" fill="#1e1e1e" textLength="9.2" lengthAdjust="spacingAndGlyphs">36</text>
<text x="426.4" y="50.3" font-size="6.7" font-style="italic" font-family="Liberation Sans, Arial, sans-serif" fill="#1e1e1e" textLength="8" lengthAdjust="spacingAndGlyphs">33</text>
<text x="428.1" y="68.7" font-size="6.7" font-style="italic" font-family="Liberation Sans, Arial, sans-serif" fill="#1e1e1e" textLength="8.2" lengthAdjust="spacingAndGlyphs">32</text>
<text x="475.2" y="55" font-size="6.7" font-style="italic" font-family="Liberation Sans, Arial, sans-serif" fill="#1e1e1e" textLength="7.6" lengthAdjust="spacingAndGlyphs">31</text>
<text x="488" y="61.3" font-size="6.7" font-style="italic" font-family="Liberation Sans, Arial, sans-serif" fill="#1e1e1e" textLength="7.4" lengthAdjust="spacingAndGlyphs">13</text>
<text x="454" y="86.6" font-size="6.7" font-style="italic" font-family="Liberation Sans, Arial, sans-serif" fill="#1e1e1e" textLength="8.4" lengthAdjust="spacingAndGlyphs">30</text>
<text x="458.5" y="105.3" font-size="6.7" font-style="italic" font-family="Liberation Sans, Arial, sans-serif" fill="#1e1e1e" textLength="8.2" lengthAdjust="spacingAndGlyphs">10</text>
<text x="491.6" y="91.2" font-size="6.7" font-style="italic" font-family="Liberation Sans, Arial, sans-serif" fill="#1e1e1e" textLength="7.6" lengthAdjust="spacingAndGlyphs">12</text>
</g>
<g id="panelD"><clipPath id="clipD"><rect x="420" y="184" width="99" height="100"/></clipPath><g clip-path="url(#clipD)">
<path d="M450.2 183 C451 187 452.5 189.5 455 191.5 C458 193.8 460.8 195 460 197.8 C459 200.5 456.5 201 456.6 204 C456.8 207.5 459.5 210 462.6 211.7 C464.5 212.8 466 213.5 467.3 214" fill="none" stroke="#1f8cbd" stroke-width="1.7" stroke-linecap="round" stroke-linejoin="round"/>
<path d="M450.2 183 C451 187 452.5 189.5 455 191.5 C458 193.8 460.8 195 460 197.8 C459 200.5 456.5 201 456.6 204 C456.8 207.5 459.5 210 462.6 211.7 C464.5 212.8 466 213.5 467.3 214" fill="none" stroke="#35b3e6" stroke-width="1.22" stroke-linecap="round" stroke-linejoin="round"/>
<path d="M450.2 183 C451 187 452.5 189.5 455 191.5 C458 193.8 460.8 195 460 197.8 C459 200.5 456.5 201 456.6 204 C456.8 207.5 459.5 210 462.6 211.7 C464.5 212.8 466 213.5 467.3 214" fill="none" stroke="#9be1f9" stroke-width="0.48" stroke-linecap="round" stroke-linejoin="round" opacity="0.75"/>
<path d="M495.4 183 C495 187.5 493 190 493.6 192.8 C494.2 195 497 197 497.6 200.5 C498 203.5 496.5 205.5 495 207 C493.5 208.5 492.3 209.8 491.8 211.5" fill="none" stroke="#1f8cbd" stroke-width="1.8" stroke-linecap="round" stroke-linejoin="round"/>
<path d="M495.4 183 C495 187.5 493 190 493.6 192.8 C494.2 195 497 197 497.6 200.5 C498 203.5 496.5 205.5 495 207 C493.5 208.5 492.3 209.8 491.8 211.5" fill="none" stroke="#35b3e6" stroke-width="1.30" stroke-linecap="round" stroke-linejoin="round"/>
<path d="M495.4 183 C495 187.5 493 190 493.6 192.8 C494.2 195 497 197 497.6 200.5 C498 203.5 496.5 205.5 495 207 C493.5 208.5 492.3 209.8 491.8 211.5" fill="none" stroke="#9be1f9" stroke-width="0.50" stroke-linecap="round" stroke-linejoin="round" opacity="0.75"/>
<path d="M487.8 184 L493.4 184 L491.4 186.6 C490 186.8 488.6 185.8 487.8 184Z" fill="#166e9c"/>
<path d="M474.9 204.3 C476 200.5 478 197.2 481 195.8 C484 194.8 486.8 196.8 488.4 199.8 C489.8 202.5 490.5 205.5 491 208.5" fill="none" stroke="#1f8cbd" stroke-width="2.0" stroke-linecap="round" stroke-linejoin="round"/>
<path d="M474.9 204.3 C476 200.5 478 197.2 481 195.8 C484 194.8 486.8 196.8 488.4 199.8 C489.8 202.5 490.5 205.5 491 208.5" fill="none" stroke="#35b3e6" stroke-width="1.44" stroke-linecap="round" stroke-linejoin="round"/>
<path d="M474.9 204.3 C476 200.5 478 197.2 481 195.8 C484 194.8 486.8 196.8 488.4 199.8 C489.8 202.5 490.5 205.5 491 208.5" fill="none" stroke="#9be1f9" stroke-width="0.56" stroke-linecap="round" stroke-linejoin="round" opacity="0.75"/>
<path d="M491.4 208 C491.8 213 490.8 218 489.5 223 C488.3 228 486.3 233 484.8 238.5 C483.5 243.5 482 248 480.6 252.5" fill="none" stroke="#1f8cbd" stroke-width="4.4" stroke-linecap="round" stroke-linejoin="round"/>
<path d="M491.4 208 C491.8 213 490.8 218 489.5 223 C488.3 228 486.3 233 484.8 238.5 C483.5 243.5 482 248 480.6 252.5" fill="none" stroke="#35b3e6" stroke-width="3.17" stroke-linecap="round" stroke-linejoin="round"/>
<path d="M491.4 208 C491.8 213 490.8 218 489.5 223 C488.3 228 486.3 233 484.8 238.5 C483.5 243.5 482 248 480.6 252.5" fill="none" stroke="#9be1f9" stroke-width="1.23" stroke-linecap="round" stroke-linejoin="round" opacity="0.75"/>
<path d="M480.8 251 C480.5 255 480.8 259 481.8 262.5 C482.3 264.5 482.5 266 482.3 267.5" fill="none" stroke="#1f8cbd" stroke-width="2.6" stroke-linecap="round" stroke-linejoin="round"/>
<path d="M480.8 251 C480.5 255 480.8 259 481.8 262.5 C482.3 264.5 482.5 266 482.3 267.5" fill="none" stroke="#35b3e6" stroke-width="1.87" stroke-linecap="round" stroke-linejoin="round"/>
<path d="M480.8 251 C480.5 255 480.8 259 481.8 262.5 C482.3 264.5 482.5 266 482.3 267.5" fill="none" stroke="#9be1f9" stroke-width="0.73" stroke-linecap="round" stroke-linejoin="round" opacity="0.75"/>
<path d="M474 232 C475.2 237 476.5 242 478 246.5 C478.8 249 479.5 251 480.2 252.5" fill="none" stroke="#1f8cbd" stroke-width="3.6" stroke-linecap="round" stroke-linejoin="round"/>
<path d="M474 232 C475.2 237 476.5 242 478 246.5 C478.8 249 479.5 251 480.2 252.5" fill="none" stroke="#35b3e6" stroke-width="2.59" stroke-linecap="round" stroke-linejoin="round"/>
<path d="M474 232 C475.2 237 476.5 242 478 246.5 C478.8 249 479.5 251 480.2 252.5" fill="none" stroke="#9be1f9" stroke-width="1.01" stroke-linecap="round" stroke-linejoin="round" opacity="0.75"/>
<path d="M473.3 205.3 C475.5 207.5 477.5 209.2 479.6 211 C482 213 484.5 215.5 486.5 218" fill="none" stroke="#1f8cbd" stroke-width="2.8" stroke-linecap="round" stroke-linejoin="round"/>
<path d="M473.3 205.3 C475.5 207.5 477.5 209.2 479.6 211 C482 213 484.5 215.5 486.5 218" fill="none" stroke="#35b3e6" stroke-width="2.02" stroke-linecap="round" stroke-linejoin="round"/>
<path d="M473.3 205.3 C475.5 207.5 477.5 209.2 479.6 211 C482 213 484.5 215.5 486.5 218" fill="none" stroke="#9be1f9" stroke-width="0.78" stroke-linecap="round" stroke-linejoin="round" opacity="0.75"/>
<path d="M485.5 217 C488 220.3 490.3 224.5 491.8 228.2 C493.5 232.5 495.5 236.5 497.6 240 C499.3 242.8 501.3 245 503.3 246.8" fill="none" stroke="#1f8cbd" stroke-width="4.4" stroke-linecap="round" stroke-linejoin="round"/>
<path d="M485.5 217 C488 220.3 490.3 224.5 491.8 228.2 C493.5 232.5 495.5 236.5 497.6 240 C499.3 242.8 501.3 245 503.3 246.8" fill="none" stroke="#35b3e6" stroke-width="3.17" stroke-linecap="round" stroke-linejoin="round"/>
<path d="M485.5 217 C488 220.3 490.3 224.5 491.8 228.2 C493.5 232.5 495.5 236.5 497.6 240 C499.3 242.8 501.3 245 503.3 246.8" fill="none" stroke="#9be1f9" stroke-width="1.23" stroke-linecap="round" stroke-linejoin="round" opacity="0.75"/>
<path d="M490.6 222 C493.5 226 497 230.5 501 234 C504.5 237 509 239.8 514.2 241 C513.8 244.5 511.8 247.4 508.6 248.3 C505 249.2 500.8 248.8 498 247.2 C495.8 245.8 494.3 243.6 493.6 241 C496.8 243.6 501.5 245.6 505.4 244.9 C507.2 244.5 508.4 243.6 508.8 242.6 C504 242.6 499.5 240.8 496 237.6 C492.6 234.4 490.2 229 490.6 222Z" fill="#3ab6e8" stroke="#1f8cbd" stroke-width="0.8" stroke-linejoin="round"/>
<path d="M492.6 227.5 C495.5 232.5 499.5 236.8 504.5 239.6" fill="none" stroke="#9be1f9" stroke-width="1.6" stroke-linecap="round" opacity="0.8"/>
<path d="M463.4 183 C461.6 186 461.4 189.4 462.6 192.4 C463.8 195 465.3 196.8 466 199 C467 203 468 207 469 211 C469.8 214 470.6 216 471.2 218 L473.4 217.3 C472.3 213 471 208.5 469.8 204 C468.8 200 468.4 196.5 468.3 193 C468.2 190 467.8 187 466.4 184.5 C465.6 183.8 465 183.3 464.6 183Z" fill="#2ba7dd" stroke="#1f8cbd" stroke-width="0.6"/>
<path d="M464.3 186 C464 189 464.8 192 466 195" fill="none" stroke="#8fdcf7" stroke-width="1.2" stroke-linecap="round"/>
<path d="M476.3 183 C474.5 186.5 472.3 190 471.2 194 C470 198.5 469.3 203 468.4 207.5 C467.6 211.5 466.2 215.5 464.8 219.5 L469.8 220.5 C470.8 216.5 471.8 212.5 472.6 208.5 C473.5 204 474.4 199.5 475.6 195 C476.6 191.2 477.6 187.2 479 183.5Z" fill="#3ab6e8" stroke="#1f8cbd" stroke-width="0.7"/>
<path d="M476.3 187.5 C474.6 191.5 473.4 196 472.5 200.5 C471.8 204.5 471 208.5 470 212.5" fill="none" stroke="#a5e5fa" stroke-width="1.5" stroke-linecap="round"/>
<path d="M467.6 214 C466.2 219 464.6 223.5 462.6 228 C461 231.5 458 234 454.5 236 C451 238 447 241 443.2 243.4" fill="none" stroke="#1f8cbd" stroke-width="4.6" stroke-linecap="round" stroke-linejoin="round"/>
<path d="M467.6 214 C466.2 219 464.6 223.5 462.6 228 C461 231.5 458 234 454.5 236 C451 238 447 241 443.2 243.4" fill="none" stroke="#35b3e6" stroke-width="3.31" stroke-linecap="round" stroke-linejoin="round"/>
<path d="M467.6 214 C466.2 219 464.6 223.5 462.6 228 C461 231.5 458 234 454.5 236 C451 238 447 241 443.2 243.4" fill="none" stroke="#9be1f9" stroke-width="1.29" stroke-linecap="round" stroke-linejoin="round" opacity="0.75"/>
<path d="M469 222 C466.5 228 463.5 234 459.3 239" fill="none" stroke="#1f8cbd" stroke-width="3.4" stroke-linecap="round" stroke-linejoin="round"/>
<path d="M469 222 C466.5 228 463.5 234 459.3 239" fill="none" stroke="#35b3e6" stroke-width="2.45" stroke-linecap="round" stroke-linejoin="round"/>
<path d="M469 222 C466.5 228 463.5 234 459.3 239" fill="none" stroke="#9be1f9" stroke-width="0.95" stroke-linecap="round" stroke-linejoin="round" opacity="0.75"/>
<path d="M469.6 212 C469.6 218 469.7 224 469.5 230 C469.3 234 468.5 237 468.8 240.5 C469.2 244.5 470.5 248 471.8 251 C473.2 254.5 475.3 258.5 477.3 262" fill="none" stroke="#1f8cbd" stroke-width="5.4" stroke-linecap="round" stroke-linejoin="round"/>
<path d="M469.6 212 C469.6 218 469.7 224 469.5 230 C469.3 234 468.5 237 468.8 240.5 C469.2 244.5 470.5 248 471.8 251 C473.2 254.5 475.3 258.5 477.3 262" fill="none" stroke="#35b3e6" stroke-width="3.89" stroke-linecap="round" stroke-linejoin="round"/>
<path d="M469.6 212 C469.6 218 469.7 224 469.5 230 C469.3 234 468.5 237 468.8 240.5 C469.2 244.5 470.5 248 471.8 251 C473.2 254.5 475.3 258.5 477.3 262" fill="none" stroke="#9be1f9" stroke-width="1.51" stroke-linecap="round" stroke-linejoin="round" opacity="0.75"/>
<path d="M471.5 259.5 C470.6 262 470.6 264.5 471.8 267 C473 270 475 272.3 477.5 272.3 C480 272 481.6 270 482.3 267" fill="none" stroke="#1f8cbd" stroke-width="1.8" stroke-linecap="round" stroke-linejoin="round"/>
<path d="M471.5 259.5 C470.6 262 470.6 264.5 471.8 267 C473 270 475 272.3 477.5 272.3 C480 272 481.6 270 482.3 267" fill="none" stroke="#35b3e6" stroke-width="1.30" stroke-linecap="round" stroke-linejoin="round"/>
<path d="M471.5 259.5 C470.6 262 470.6 264.5 471.8 267 C473 270 475 272.3 477.5 272.3 C480 272 481.6 270 482.3 267" fill="none" stroke="#9be1f9" stroke-width="0.50" stroke-linecap="round" stroke-linejoin="round" opacity="0.75"/>
<path d="M473 263 C474.5 264.5 476.5 266.5 479 267.5" fill="none" stroke="#1f8cbd" stroke-width="1.3" stroke-linecap="round" stroke-linejoin="round"/>
<path d="M473 263 C474.5 264.5 476.5 266.5 479 267.5" fill="none" stroke="#35b3e6" stroke-width="0.94" stroke-linecap="round" stroke-linejoin="round"/>
<path d="M473 263 C474.5 264.5 476.5 266.5 479 267.5" fill="none" stroke="#9be1f9" stroke-width="0.36" stroke-linecap="round" stroke-linejoin="round" opacity="0.75"/>
<path d="M442.8 243.2 L444.5 254 L443.8 262.6 L453.9 265.8 L458.2 254.7" fill="none" stroke="#1f8cbd" stroke-width="1.6" stroke-linecap="round" stroke-linejoin="round"/>
<path d="M442.8 243.2 L444.5 254 L443.8 262.6 L453.9 265.8 L458.2 254.7" fill="none" stroke="#35b3e6" stroke-width="1.15" stroke-linecap="round" stroke-linejoin="round"/>
<path d="M442.8 243.2 L444.5 254 L443.8 262.6 L453.9 265.8 L458.2 254.7" fill="none" stroke="#9be1f9" stroke-width="0.45" stroke-linecap="round" stroke-linejoin="round" opacity="0.75"/>
<path d="M459.5 241 L461.5 254" fill="none" stroke="#1f8cbd" stroke-width="1.6" stroke-linecap="round" stroke-linejoin="round"/>
<path d="M459.5 241 L461.5 254" fill="none" stroke="#35b3e6" stroke-width="1.15" stroke-linecap="round" stroke-linejoin="round"/>
<path d="M459.5 241 L461.5 254" fill="none" stroke="#9be1f9" stroke-width="0.45" stroke-linecap="round" stroke-linejoin="round" opacity="0.75"/>
<path d="M444.5 254 L449 252.3 M443.8 262.6 L437.8 261.2 M453.9 265.8 L456.8 269.6" fill="none" stroke="#1f8cbd" stroke-width="1.4" stroke-linecap="round" stroke-linejoin="round"/>
<path d="M444.5 254 L449 252.3 M443.8 262.6 L437.8 261.2 M453.9 265.8 L456.8 269.6" fill="none" stroke="#35b3e6" stroke-width="1.01" stroke-linecap="round" stroke-linejoin="round"/>
<path d="M444.5 254 L449 252.3 M443.8 262.6 L437.8 261.2 M453.9 265.8 L456.8 269.6" fill="none" stroke="#9be1f9" stroke-width="0.39" stroke-linecap="round" stroke-linejoin="round" opacity="0.75"/>
<circle cx="459" cy="241" r="3.0" fill="url(#gc)"/>
<circle cx="442.8" cy="243.2" r="2.8" fill="url(#gc)"/>
<circle cx="444.5" cy="254" r="2.8" fill="url(#gc)"/>
<circle cx="443.8" cy="262.6" r="3.0" fill="url(#gc)"/>
<circle cx="453.9" cy="265.8" r="3.0" fill="url(#gc)"/>
<circle cx="458.2" cy="254.7" r="2.9" fill="url(#gc)"/>
<circle cx="463.3" cy="238.5" r="3.1" fill="url(#gb)"/>
<circle cx="461.9" cy="254.4" r="3.3" fill="url(#gb)"/>
<circle cx="449.3" cy="252.2" r="3.1" fill="url(#gr)"/>
<circle cx="437.6" cy="261.2" r="3.1" fill="url(#gr)"/>
<circle cx="456.8" cy="269.8" r="3.1" fill="url(#gr)"/>
</g>
<text x="427.2" y="240" font-size="6.7" font-style="italic" font-family="Liberation Sans, Arial, sans-serif" fill="#1e1e1e" textLength="11.8" lengthAdjust="spacingAndGlyphs">164</text>
<text x="427.2" y="252.5" font-size="6.7" font-style="italic" font-family="Liberation Sans, Arial, sans-serif" fill="#1e1e1e" textLength="11.8" lengthAdjust="spacingAndGlyphs">163</text>
<text x="427.2" y="272.4" font-size="6.7" font-style="italic" font-family="Liberation Sans, Arial, sans-serif" fill="#1e1e1e" textLength="12.2" lengthAdjust="spacingAndGlyphs">162</text>
<text x="454.7" y="278.5" font-size="6.7" font-style="italic" font-family="Liberation Sans, Arial, sans-serif" fill="#1e1e1e" textLength="11.6" lengthAdjust="spacingAndGlyphs">161</text>
<text x="468.8" y="240" font-size="6.7" font-style="italic" font-family="Liberation Sans, Arial, sans-serif" fill="#1e1e1e" textLength="12.2" lengthAdjust="spacingAndGlyphs">166</text>
<text x="465.5" y="258.3" font-size="6.7" font-style="italic" font-family="Liberation Sans, Arial, sans-serif" fill="#1e1e1e" textLength="12.2" lengthAdjust="spacingAndGlyphs">159</text>
</g>
<path d="M0 0.5H520" stroke="#5a5a5a"/><path d="M0.5 0V326" stroke="#636363"/><path d="M519.5 0V326" stroke="#585858"/><path d="M0 325.5H520" stroke="#3a3a3a"/>
</svg>
</body></html>
